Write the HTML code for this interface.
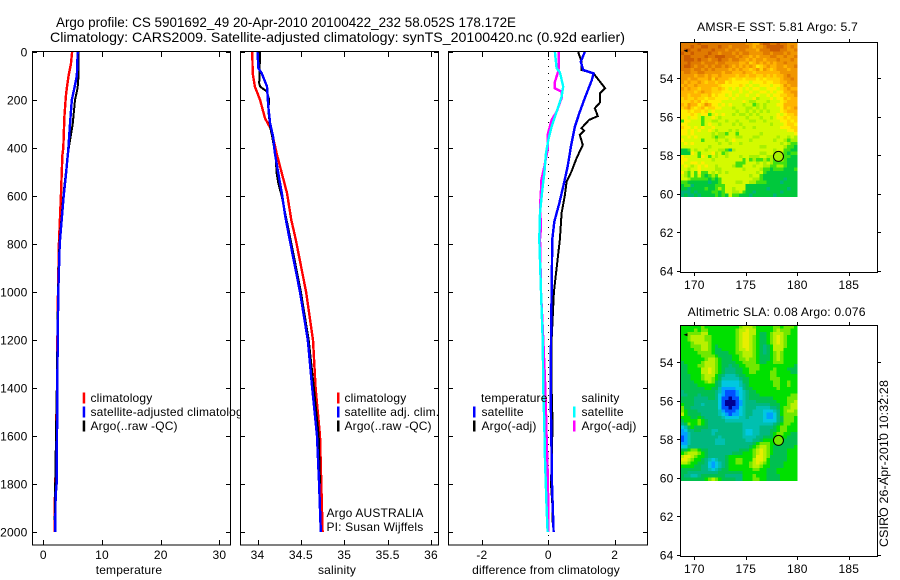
<!DOCTYPE html>
<html lang="en">
<head>
<meta charset="utf-8">
<title>Argo profile 5901692_49</title>
<style>
html,body{margin:0;padding:0;background:#fff;}
svg{display:block;}
text{font-family:"Liberation Sans",sans-serif;font-size:12px;fill:#000;letter-spacing:0.17px;}
.title{font-size:14px;letter-spacing:0;}
</style>
</head>
<body>
<svg id="chart" xmlns="http://www.w3.org/2000/svg" width="900" height="580" viewBox="0 0 900 580">
  <rect x="0" y="0" width="900" height="580" fill="#fff"/>
  <text class="title" x="56" y="27" textLength="460" lengthAdjust="spacingAndGlyphs">Argo profile: CS 5901692_49 20-Apr-2010 20100422_232 58.052S 178.172E</text>
  <text class="title" x="50" y="42" textLength="575" lengthAdjust="spacingAndGlyphs">Climatology: CARS2009. Satellite-adjusted climatology: synTS_20100420.nc (0.92d earlier)</text>
  <g id="panels"></g>
  <g id="maps"></g>
  <text x="0" y="0" transform="translate(888,547) rotate(-90)" textLength="167" lengthAdjust="spacingAndGlyphs">CSIRO 26-Apr-2010 10:32:28</text>
</svg>
<script>
// ---- axis tick values ----
const depthTicks = [0,200,400,600,800,1000,1200,1400,1600,1800,2000];
const tempTicks = [0,10,20,30];
const salTicks = [34,34.5,35,35.5,36];
const salTickLabels = ['34','34.5','35','35.5','36'];
const diffTicks = [-2,0,2];
const lonTicks = [170,175,180,185];
const latTicks = [54,56,58,60,62,64];

// ---- temperature panel ----
const tempClimDepth = [0,50,100,170,200,270,400,430,530,600,800,1000,1200,1400,1550,1700,1880,2000];
const tempClim = [4.9,4.7,4.3,3.9,3.8,3.6,3.4,3.25,3.1,3.0,2.65,2.5,2.4,2.35,2.2,2.15,1.96,1.9];
const tempSatDepth = [0,60,100,150,200,300,400,500,600,800,1000,1200,1400,1550,1800,1850,2000];
const tempSat = [5.85,5.8,5.7,5.3,4.85,4.55,4.27,3.9,3.47,2.8,2.55,2.45,2.39,2.35,2.27,2.1,2.05];
const tempArgoDepth = [0,100,150,200,300,400,500,600,800,1000,1200,1400,1700,1950];
const tempArgo = [6.0,6.0,5.85,5.4,5.0,4.35,3.85,3.4,2.75,2.5,2.4,2.3,2.1,1.95];

// ---- salinity panel ----
const salClimDepth = [0,89,144,200,276,325,422,505,588,700,780,1000,1200,1400,1600,1800,2000];
const salClim = [33.94,33.945,33.97,34.03,34.086,34.16,34.22,34.28,34.34,34.39,34.44,34.56,34.64,34.67,34.72,34.735,34.75];
const salSatDepth = [0,67,89,144,228,297,353,422,505,588,686,780,1000,1200,1400,1600,1800,2000];
const salSat = [34.0,34.01,34.05,34.11,34.125,34.145,34.18,34.2,34.24,34.28,34.32,34.37,34.49,34.58,34.63,34.686,34.71,34.73];
const salArgoDepth = [0,130,144,165,200,242,311,353,436,505,546,603,780,1000,1200,1400,1600,1800];
const salArgo = [34.03,34.02,34.03,34.11,34.135,34.125,34.145,34.17,34.21,34.22,34.24,34.28,34.38,34.5,34.59,34.65,34.705,34.72];

// ---- difference panel ----
const diffDepth1 = [0,40,75,89,117,192,249,311,394,478,561,630,707,780,1000,1200,1400,1800,2000];
const diffTempSat = [1.1,0.98,1.05,1.36,1.31,1.1,0.95,0.8,0.68,0.58,0.45,0.33,0.18,0.12,0.1,0.08,0.07,0.11,0.16];
const diffDepth2 = [0,40,75,89,151,172,210,234,267,283,317,328,346,387,443,498,540,596,671,780,1000,1200,1400,1550,1800,1900,1960];
const diffTempArgo = [0.9,1.0,1.0,1.36,1.71,1.56,1.56,1.4,1.49,1.23,1.0,1.08,0.95,1.04,0.85,0.7,0.55,0.5,0.4,0.35,0.17,0.1,0.1,0.13,0.08,0.13,0.13];
const diffDepth3 = [0,67,89,124,151,165,192,249,283,346,400,478,540,575,644,728,780,1000,1200,1367,1500,1600,1800,2000];
const diffSalArgo = [0.32,0.32,0.28,0.2,0.19,0.4,0.4,0.25,0.1,-0.02,-0.01,-0.12,-0.22,-0.22,-0.25,-0.22,-0.25,-0.22,-0.15,-0.1,-0.07,-0.05,-0.01,0.0];
const diffDepth4 = [0,67,85,144,186,249,311,367,422,505,575,671,780,1000,1200,1400,1550,1700,1900,2000];
const diffSalSat = [0.2,0.25,0.35,0.45,0.4,0.25,0.1,0.0,-0.07,-0.12,-0.18,-0.25,-0.27,-0.22,-0.17,-0.15,-0.12,-0.1,-0.05,-0.02];

// ---- map grids (colour level per cell, north to south, west to east) ----
const sstRows = [
[1,1,1,1,1,0,1,1,1,1,1,1,1,1,1,1,1,1,1,2,2,3,3,1,0,0,1,1,0,1,1,2,2,2],
[1,1,1,0,1,1,0,0,1,1,1,0,1,1,2,1,1,1,1,1,2,3,2,2,1,0,0,0,0,0,1,2,1,2],
[1,0,0,1,1,0,1,1,1,0,1,1,1,2,1,1,2,1,1,2,2,2,3,1,1,1,0,0,0,1,1,2,2,1],
[0,1,1,0,1,1,1,1,0,1,1,2,1,1,1,2,1,2,1,1,2,2,2,2,1,1,2,1,1,1,2,1,2,2],
[1,0,0,1,1,1,1,0,1,1,0,0,0,1,1,1,2,1,2,2,3,2,3,2,2,2,1,1,2,2,1,2,2,1],
[1,0,0,0,1,0,1,1,2,1,1,0,1,1,2,1,1,2,2,3,2,3,2,2,3,2,2,2,1,2,2,2,1,2],
[1,1,0,1,1,1,2,1,1,1,2,1,1,2,2,2,2,3,3,2,4,3,2,3,2,3,2,3,2,2,1,2,2,2],
[1,0,0,1,2,1,1,2,1,2,1,1,2,1,2,3,2,3,2,3,2,3,5,4,3,2,3,3,2,2,3,2,2,1],
[1,1,1,2,1,1,2,1,2,1,2,2,2,2,3,2,3,2,3,3,4,3,2,4,2,3,4,3,2,2,2,3,2,2],
[2,1,1,2,2,1,1,2,2,2,2,2,3,2,2,3,3,3,2,3,3,4,3,3,3,3,3,3,3,2,2,2,2,2],
[2,2,2,2,3,2,2,3,2,3,3,2,3,3,3,3,4,3,3,4,3,3,4,4,3,4,3,4,3,3,2,1,2,2],
[2,2,3,2,2,3,3,3,2,4,2,3,3,3,4,5,4,4,5,4,4,4,5,4,5,4,4,4,4,3,2,2,1,2],
[2,3,2,3,3,2,3,4,3,3,4,3,3,5,4,5,5,5,5,5,6,5,5,5,4,5,5,4,4,3,3,2,2,2],
[3,2,3,3,2,3,3,3,3,3,3,4,5,5,5,5,5,4,5,6,5,6,6,5,5,5,6,5,5,4,2,3,2,2],
[2,3,2,3,3,4,3,3,3,4,4,3,4,5,6,5,6,5,6,5,6,5,5,6,6,5,5,5,6,4,3,2,3,3],
[3,3,3,3,4,3,2,3,3,4,4,4,5,5,5,6,6,5,6,6,5,6,6,5,5,6,5,6,5,5,3,3,2,2],
[3,3,4,3,3,3,4,4,3,5,4,5,5,6,5,6,5,6,6,5,6,6,5,6,6,5,6,5,5,4,4,3,3,2],
[4,3,4,4,3,4,4,5,4,4,5,5,5,5,6,5,6,6,6,6,6,5,7,6,6,6,5,6,5,5,3,4,3,3],
[4,4,4,3,4,3,5,4,5,5,5,5,6,6,6,6,6,6,5,6,7,7,6,6,6,7,6,6,6,5,4,3,3,3],
[3,4,2,3,3,5,4,2,3,5,5,6,5,6,5,6,6,6,7,6,6,8,7,6,7,6,6,6,5,5,3,3,3,3],
[4,3,2,4,5,4,3,5,4,4,5,5,6,6,6,7,6,6,6,7,7,6,7,6,7,6,6,6,6,5,3,4,3,2],
[5,5,4,5,4,4,5,4,6,5,6,6,6,6,6,6,7,6,6,7,6,7,6,7,6,7,6,6,6,5,4,3,3,3],
[5,5,5,4,5,6,5,5,8,6,5,6,5,6,6,7,6,7,7,6,7,6,7,6,6,6,6,6,5,6,5,4,4,3],
[5,5,6,5,5,6,8,6,6,5,6,7,6,6,6,6,6,6,6,7,6,6,6,7,6,6,7,6,5,5,4,5,4,4],
[8,5,5,6,6,6,8,6,6,7,7,6,6,7,6,6,7,6,6,6,7,7,6,6,7,6,6,6,6,5,5,4,5,4],
[5,5,6,6,6,6,8,6,5,6,6,7,6,6,6,7,6,7,6,6,6,6,6,6,6,6,7,6,6,6,5,4,4,5],
[4,5,5,6,5,6,5,6,6,5,6,6,6,6,6,6,6,6,7,6,6,7,6,6,6,6,6,6,6,5,5,5,4,4],
[5,5,6,5,6,5,6,6,5,6,7,6,6,6,7,6,7,6,6,6,6,6,6,6,6,6,6,6,6,6,6,5,5,4],
[5,5,6,5,6,6,6,6,6,7,6,7,7,8,6,6,8,6,6,6,6,6,6,7,6,6,6,6,6,6,6,6,6,5],
[6,6,5,6,5,6,6,6,6,7,8,7,7,6,6,6,7,7,6,6,6,7,7,6,6,6,6,6,7,6,6,7,6,7],
[5,6,6,6,6,6,8,6,6,6,7,6,6,7,6,5,6,6,6,6,7,6,6,6,6,6,6,7,6,6,7,8,7,7],
[6,5,6,5,6,6,6,6,6,6,6,7,6,6,7,6,6,7,6,6,6,6,6,6,6,6,6,6,6,7,6,7,8,8],
[6,6,6,6,6,6,6,6,7,6,6,6,6,6,6,6,6,6,6,6,6,6,6,7,7,6,6,6,6,6,7,8,8,9],
[9,9,8,6,7,6,6,7,6,6,6,7,7,8,10,7,6,6,6,6,6,6,6,6,6,6,6,7,6,6,8,8,9,9],
[9,9,9,5,6,8,6,6,6,5,7,6,8,7,6,6,6,6,6,6,6,6,6,7,7,6,6,7,7,7,8,9,8,8],
[5,6,6,6,6,8,5,6,8,6,7,6,6,7,6,6,6,7,6,6,7,7,7,6,6,7,7,7,7,7,8,8,9,9],
[5,5,6,6,6,6,6,6,6,7,6,6,6,6,6,6,6,6,8,6,8,7,8,8,7,8,7,8,7,7,8,9,9,9],
[5,6,6,5,5,6,5,6,6,6,6,6,6,6,6,6,8,8,8,6,6,6,7,6,7,6,7,8,8,8,8,9,9,9],
[6,5,6,7,6,5,6,5,6,6,7,6,6,6,6,7,8,8,6,6,6,7,6,6,7,7,8,8,7,7,8,9,9,9],
[6,6,7,6,6,5,6,6,6,6,7,7,6,6,6,6,6,6,7,6,6,6,6,7,8,8,9,8,8,8,9,9,9,8],
[5,7,8,6,8,5,8,8,6,7,6,7,6,7,6,6,6,6,6,6,6,6,7,6,8,9,9,9,9,9,9,9,9,9],
[6,7,8,6,8,6,8,9,8,7,8,6,6,6,6,6,6,6,6,6,7,6,6,8,9,9,9,9,9,9,9,9,9,9],
[6,6,7,8,8,8,8,8,9,8,9,8,6,6,6,6,6,6,6,6,6,7,7,8,9,9,9,9,9,9,10,9,9,9],
[8,8,9,9,9,9,9,9,10,9,9,8,6,6,6,6,7,7,6,6,7,7,8,8,8,9,9,9,9,10,9,9,9,9],
[9,8,8,10,9,9,9,9,9,9,8,8,8,6,6,6,6,6,6,9,9,9,9,9,9,9,9,9,9,9,9,9,9,9],
[9,9,10,9,9,9,9,8,9,9,8,7,8,6,6,7,6,6,6,9,9,9,9,9,9,10,9,9,9,9,9,10,9,9],
[10,10,10,9,10,9,9,9,9,8,8,9,8,6,6,7,7,6,8,9,9,10,9,9,9,9,9,9,9,10,9,9,9,9],
[10,9,10,10,9,10,9,9,9,9,8,9,8,9,6,8,8,9,9,9,10,9,9,9,9,9,9,10,9,9,9,9,9,9]
];
const slaRows = [
[7,7,7,7,7,7,8,7,7,7,7,7,7,7,7,7,7,8,9,9,9,8,7,7,7,7,7,8,8,7,8,8,8,7],
[7,7,7,7,8,7,8,8,7,7,7,7,7,7,7,7,8,9,9,10,9,9,7,7,7,7,7,8,9,8,8,8,7,7],
[7,7,8,8,8,8,9,9,7,7,7,7,7,7,7,7,8,9,10,10,9,9,7,6,6,7,8,9,9,9,8,8,7,7],
[7,7,8,9,9,9,9,8,8,7,7,7,7,7,7,7,8,9,10,10,9,8,7,6,6,7,8,9,10,9,8,7,7,7],
[7,7,8,9,9,9,9,8,8,7,7,7,7,7,7,7,8,9,10,10,9,8,7,6,6,7,8,9,10,9,8,7,7,7],
[7,7,7,8,9,9,9,9,8,7,7,7,7,7,7,7,8,9,10,10,9,8,7,6,6,7,8,9,10,9,8,7,7,7],
[7,7,7,8,8,8,9,9,8,7,6,7,7,7,7,7,8,9,10,10,9,8,7,6,5,6,7,9,9,9,8,7,7,7],
[7,7,7,7,8,8,9,9,8,7,6,6,7,7,7,7,8,9,9,10,9,8,7,6,5,6,7,9,9,9,7,7,7,7],
[7,7,7,7,7,8,8,8,8,7,6,6,6,6,7,7,8,8,9,9,9,8,7,6,5,6,7,8,9,8,7,7,7,7],
[7,7,7,7,7,7,8,8,8,8,7,6,6,6,6,7,7,8,9,9,9,8,7,6,6,6,7,8,9,8,7,7,7,7],
[7,7,7,7,7,7,7,8,9,9,8,7,6,6,6,7,7,8,8,9,8,8,7,6,6,6,7,8,9,8,7,7,7,7],
[6,7,7,7,7,7,8,9,9,9,8,7,6,6,6,6,7,7,8,8,8,8,7,6,6,7,7,8,8,8,7,7,7,7],
[6,6,7,7,7,8,8,9,9,9,8,7,6,6,5,6,6,7,7,8,8,8,8,7,7,7,7,7,7,7,7,7,7,6],
[6,6,7,7,7,7,9,9,10,9,8,7,6,5,5,5,6,6,7,7,8,8,8,7,7,7,7,8,7,7,7,6,6,6],
[6,6,7,7,7,7,9,9,10,9,8,7,6,5,5,5,6,6,7,7,8,8,7,7,7,7,8,8,7,7,7,7,6,6],
[6,6,6,7,7,7,8,9,9,9,7,6,5,4,4,4,5,6,6,7,7,7,7,7,7,7,8,8,7,7,7,7,7,7],
[6,6,6,7,7,7,8,9,9,8,7,6,4,4,4,4,4,5,6,6,7,7,7,7,7,7,8,8,8,7,7,7,7,7],
[6,6,6,6,7,7,7,8,9,8,6,5,3,3,3,3,3,4,6,6,7,7,7,7,7,7,7,8,8,7,7,8,7,7],
[6,6,6,6,6,7,7,7,7,7,6,5,3,3,3,3,3,4,5,6,7,7,7,7,7,7,7,8,8,7,7,8,7,7],
[6,6,6,6,6,6,6,7,7,6,6,4,2,2,2,2,3,3,5,6,6,7,7,7,7,7,7,7,8,7,7,7,7,7],
[5,6,6,6,6,6,6,6,6,6,5,4,2,1,1,1,2,3,4,5,6,6,7,7,7,7,7,7,7,7,7,7,7,7],
[5,5,6,6,6,5,6,6,6,6,5,3,2,1,1,1,2,3,4,5,6,6,6,7,7,7,7,7,7,7,7,7,8,8],
[6,6,6,6,5,5,5,5,6,6,5,3,1,1,0,1,1,3,4,5,6,6,6,6,6,6,6,7,7,7,7,8,8,8],
[6,6,6,6,5,5,5,5,5,5,5,3,1,0,0,0,1,2,4,5,5,5,6,6,6,6,6,6,7,7,7,8,8,9],
[7,6,6,6,5,5,4,5,5,5,5,3,1,0,0,0,1,2,4,5,5,5,5,5,5,5,6,6,6,7,7,8,9,9],
[8,6,6,5,5,5,5,5,5,5,5,3,1,1,0,1,1,3,4,5,5,5,4,4,4,4,5,5,6,7,8,8,9,9],
[8,7,6,6,6,5,5,5,5,5,5,4,2,1,1,1,2,3,4,5,5,4,4,4,3,3,3,4,5,7,8,9,9,8],
[9,7,6,6,6,6,5,5,5,5,5,4,3,2,1,2,2,3,4,5,5,4,4,4,3,2,2,3,5,7,8,8,8,8],
[7,7,7,6,6,7,6,5,5,5,5,5,4,3,3,3,3,4,4,5,4,4,4,4,3,2,2,3,5,6,8,8,8,7],
[6,7,7,7,7,8,7,6,5,5,5,5,5,4,4,4,4,4,4,4,4,4,4,4,3,3,3,3,5,6,8,8,8,7],
[5,6,8,7,7,8,7,6,5,5,5,5,5,5,5,5,5,5,4,4,4,4,4,4,4,4,4,5,6,7,8,8,7,7],
[3,4,6,7,6,6,6,6,5,5,5,5,5,5,5,5,5,5,4,4,4,4,4,5,5,5,5,6,7,8,8,7,7,7],
[2,3,5,5,6,6,5,5,5,4,4,5,5,5,5,5,5,5,4,3,3,4,4,5,5,5,6,6,7,8,8,7,7,7],
[2,2,4,5,5,5,5,5,5,4,5,5,5,5,5,5,5,5,4,3,3,4,4,5,5,5,6,7,8,8,7,7,6,6],
[1,2,4,5,5,5,5,5,5,5,5,4,5,5,5,5,5,5,4,4,4,4,5,5,6,6,6,7,8,7,7,6,6,6],
[1,2,4,5,5,5,5,5,5,5,4,4,4,5,5,5,5,5,5,4,4,5,5,6,7,7,7,7,7,7,6,6,6,6],
[2,2,4,5,5,5,5,5,5,5,4,4,4,5,5,5,5,5,5,5,5,6,7,8,8,8,7,7,6,6,6,6,6,6],
[3,3,5,5,5,5,5,5,5,5,5,5,5,5,5,5,5,5,5,5,6,7,8,9,9,8,7,6,6,6,6,6,6,7],
[6,6,7,8,8,7,6,6,5,5,5,5,5,5,5,5,5,6,6,6,7,8,9,10,9,8,7,6,6,6,6,7,7,7],
[7,8,9,9,9,8,7,6,5,5,5,5,5,5,5,6,6,6,7,7,7,8,9,10,9,8,7,6,6,6,6,7,7,7],
[9,10,10,9,8,7,7,6,5,5,5,5,5,6,7,7,7,7,7,7,7,8,10,10,9,8,6,6,6,6,6,7,7,7],
[10,10,9,8,7,7,6,5,4,3,4,5,5,6,7,7,8,8,7,7,7,9,10,10,9,7,6,6,6,6,6,7,7,7],
[9,9,8,7,7,6,6,5,3,2,3,4,5,6,7,7,8,8,7,7,8,9,10,9,8,7,6,6,6,6,7,7,7,7],
[7,7,7,7,6,6,5,5,3,2,3,4,5,6,7,7,7,7,7,7,8,9,9,8,7,7,6,6,6,6,7,7,7,7],
[6,6,6,6,6,6,5,5,4,3,4,5,6,6,7,7,7,7,7,7,7,8,8,7,7,6,6,6,7,7,7,7,7,7],
[6,6,5,5,5,5,5,5,5,5,5,6,6,6,6,6,6,6,7,7,7,7,7,7,7,6,6,6,7,7,7,7,7,7],
[6,5,5,4,4,5,6,6,6,6,6,6,6,5,5,5,5,5,7,7,7,8,7,7,7,6,6,6,6,7,7,7,7,7],
[6,6,6,6,6,6,6,7,8,9,8,7,6,6,6,6,5,5,7,7,7,8,8,7,7,6,6,6,6,7,7,7,7,7]
];
const sstColours = ['#cc5c00','#e07a00','#f09600','#ffb400','#ffd200','#ffee00','#d4fa00','#a8f000','#40e010','#00c83c','#00b47c'];
const slaColours = ['#000090','#0050ff','#00a0ff','#00c8e0','#00c0b0','#00b880','#00c050','#00e000','#70e800','#b8f000','#e8ee00'];
const profileLat = 58.052;
const profileLon = 178.172;
const sstAtProfile = 7;
const slaAtProfile = 8;

const NS = 'http://www.w3.org/2000/svg';
const panelsRoot = document.getElementById('panels');
const mapsRoot = document.getElementById('maps');

function make(tag, parent, attrs, txt) {
  const el = document.createElementNS(NS, tag);
  for (const k in attrs) el.setAttribute(k, attrs[k]);
  if (txt !== undefined) el.textContent = txt;
  parent.appendChild(el);
  return el;
}

// ---- axis functions ----
const yDepth = d => 52 + d * 0.24;
const xTemp = v => 43.3 + v * 5.87;
const xSal = v => 257.5 + (v - 34) * 86.75;
const xDiff = v => 548.3 + v * 33.2;
const xLon = v => 694.3 + (v - 170) * 10.3;
const yLat1 = v => 78.3 + (v - 54) * 19.27;
const yLat2 = v => 362.3 + (v - 54) * 19.27;

function drawSeries(parent, name, depths, vals, xf, colour, w) {
  const pts = vals.map((v, i) => xf(v).toFixed(1) + ',' + yDepth(depths[i]).toFixed(1)).join(' ');
  const el = make('polyline', parent, {points: pts, fill: 'none', stroke: colour, 'stroke-width': w, 'shape-rendering': 'crispEdges'});
  
  
}

function drawPanel(name, left, right, xf, ticks, labels, xlabel, xlabelX, showDepth) {
  const g = make('g', panelsRoot, {});
  
  
  const top = 52, bottom = 545;
  const bg = make('rect', g, {x: left, y: top - 0.5, width: right - left, height: bottom - top, fill: '#fff', stroke: 'none'});
  
  
  const ax = make('g', g, {stroke: '#000', 'stroke-width': 1, 'shape-rendering': 'crispEdges'});
  
  
  ticks.forEach((t, i) => {
    const x = Math.round(xf(t)) + 0.5;
    make('line', ax, {x1: x, x2: x, y1: top, y2: top + 5});
    make('line', ax, {x1: x, x2: x, y1: bottom, y2: bottom - 5});
    const lb = make('text', g, {x: xf(t), y: 559, 'text-anchor': 'middle'}, labels[i]);
    
    
  });
  depthTicks.forEach(d => {
    const y = Math.round(yDepth(d)) + 0.5;
    make('line', ax, {x1: left, x2: left + 5, y1: y, y2: y});
    make('line', ax, {x1: right, x2: right - 5, y1: y, y2: y});
    if (showDepth) {
      const lb = make('text', g, {x: 27.5, y: yDepth(d) + 4.5, 'text-anchor': 'end'}, String(d));
      
      
    }
  });
  const t = make('text', g, {x: xlabelX, y: 574, 'text-anchor': 'middle'}, xlabel);
  
  
  return {g, frame() {
    const f = make('rect', g, {x: left + 0.5, y: top - 0.5, width: right - left - 1, height: bottom - top + 0.5, fill: 'none', stroke: '#000', 'stroke-width': 1, 'shape-rendering': 'crispEdges'});
    
    
  }};
}

function legendEntry(parent, name, swatchX, textX, y, colour, label) {
  if (colour) {
    const s = make('rect', parent, {x: swatchX, y: y - 9.5, width: 2.5, height: 11, fill: colour});
    
    
  }
  const t = make('text', parent, {x: textX, y: y}, label);
  
  
}

// ---- temperature ----
const p1 = drawPanel('temperature', 32, 231, xTemp, tempTicks, tempTicks.map(String), 'temperature', 129, true);
drawSeries(p1.g, 'temperature-climatology-line', tempClimDepth, tempClim, xTemp, '#ff0000', 2.4);
drawSeries(p1.g, 'temperature-argo-line', tempArgoDepth, tempArgo, xTemp, '#000000', 2);
drawSeries(p1.g, 'temperature-satellite-line', tempSatDepth, tempSat, xTemp, '#0000ff', 2.4);
p1.frame();
legendEntry(p1.g, 'legend-climatology', 82.7, 90.5, 402, '#ff0000', 'climatology');
legendEntry(p1.g, 'legend-satellite-adjusted', 82.7, 90.5, 416, '#0000ff', 'satellite-adjusted climatology');
legendEntry(p1.g, 'legend-argo-raw', 82.7, 90.5, 430, '#000000', 'Argo(..raw -QC)');

// ---- salinity ----
const p2 = drawPanel('salinity', 240, 439, xSal, salTicks, salTickLabels, 'salinity', 337, false);
drawSeries(p2.g, 'salinity-climatology-line', salClimDepth, salClim, xSal, '#ff0000', 2.4);
drawSeries(p2.g, 'salinity-argo-line', salArgoDepth, salArgo, xSal, '#000000', 2);
drawSeries(p2.g, 'salinity-satellite-line', salSatDepth, salSat, xSal, '#0000ff', 2.4);
p2.frame();
legendEntry(p2.g, 'legend-sal-climatology', 337, 344.5, 402, '#ff0000', 'climatology');
legendEntry(p2.g, 'legend-sal-satellite', 337, 344.5, 416, '#0000ff', 'satellite adj. clim.');
legendEntry(p2.g, 'legend-sal-argo', 337, 344.5, 430, '#000000', 'Argo(..raw -QC)');
legendEntry(p2.g, 'argo-australia-note', 0, 326.5, 517, null, 'Argo AUSTRALIA');
legendEntry(p2.g, 'pi-note', 0, 326.5, 531, null, 'PI: Susan Wijffels');

// ---- difference ----
const p3 = drawPanel('difference', 448, 648, xDiff, diffTicks, diffTicks.map(String), 'difference from climatology', 546, false);
const zero = make('line', p3.g, {x1: xDiff(0), x2: xDiff(0), y1: 52, y2: 545, stroke: '#000', 'stroke-width': 1, 'stroke-dasharray': '1 6', 'shape-rendering': 'crispEdges'});


drawSeries(p3.g, 'diff-temperature-argo-line', diffDepth2, diffTempArgo, xDiff, '#000000', 2);
drawSeries(p3.g, 'diff-temperature-satellite-line', diffDepth1, diffTempSat, xDiff, '#0000ff', 2.4);
drawSeries(p3.g, 'diff-salinity-argo-line', diffDepth3, diffSalArgo, xDiff, '#ff00ff', 2.4);
drawSeries(p3.g, 'diff-salinity-satellite-line', diffDepth4, diffSalSat, xDiff, '#00ffff', 2.4);
p3.frame();
legendEntry(p3.g, 'legend-temperature-heading', 0, 481, 402, null, 'temperature');
legendEntry(p3.g, 'legend-temp-satellite', 473, 481.5, 416, '#0000ff', 'satellite');
legendEntry(p3.g, 'legend-temp-argo', 473, 481.5, 430, '#000000', 'Argo(-adj)');
legendEntry(p3.g, 'legend-salinity-heading', 0, 581.5, 402, null, 'salinity');
legendEntry(p3.g, 'legend-sal-satellite-diff', 573, 581.5, 416, '#00ffff', 'satellite');
legendEntry(p3.g, 'legend-sal-argo-diff', 573, 581.5, 430, '#ff00ff', 'Argo(-adj)');

// ---- maps ----
function drawMap(name, rows, colours, yLat, top, bottom, imgTop, imgBottom, title, titleX, titleY, titleLen, labelY, markerLevel) {
  const g = make('g', mapsRoot, {});
  
  
  const imgLeft = xLon(168.65), imgRight = xLon(180);
  const cw = (imgRight - imgLeft) / rows[0].length;
  const ch = (imgBottom - imgTop) / rows.length;
  const cells = make('g', g, {'shape-rendering': 'crispEdges'});
  
  
  rows.forEach((row, r) => row.forEach((v, c) => {
    const cell = make('rect', cells, {x: (imgLeft + c * cw).toFixed(2), y: (imgTop + r * ch).toFixed(2), width: (cw + 0.3).toFixed(2), height: (ch + 0.3).toFixed(2), fill: colours[v]});
    
    
  }));
  const f = make('rect', g, {x: 680.5, y: top + 0.5, width: 197, height: bottom - top, fill: 'none', stroke: '#000', 'stroke-width': 1, 'shape-rendering': 'crispEdges'});
  
  
  const ax = make('g', g, {stroke: '#000', 'stroke-width': 1, 'shape-rendering': 'crispEdges'});
  
  
  lonTicks.forEach(l => {
    const x = Math.round(xLon(l)) + 0.5;
    make('line', ax, {x1: x, x2: x, y1: top - 3, y2: top});
    make('line', ax, {x1: x, x2: x, y1: bottom + 1, y2: bottom + 4});
    const lb = make('text', g, {x: xLon(l), y: labelY, 'text-anchor': 'middle'}, String(l));
    
    
  });
  latTicks.forEach(l => {
    const y = Math.round(yLat(l)) + 0.5;
    make('line', ax, {x1: 677, x2: 680, y1: y, y2: y});
    make('line', ax, {x1: 878, x2: 881, y1: y, y2: y});
    const lb = make('text', g, {x: 673.5, y: yLat(l) + 4.5, 'text-anchor': 'end'}, String(l));
    
    
  });
  const t = make('text', g, {x: titleX, y: titleY, textLength: titleLen, lengthAdjust: 'spacingAndGlyphs'}, title);
  
  
  const c = make('circle', g, {cx: xLon(profileLon), cy: yLat(profileLat), r: 5, fill: colours[markerLevel], stroke: '#000', 'stroke-width': 1});
  
  
  const mx = 686, my = yLat(52.57);
  const a = make('polygon', g, {points: [mx - 2.5, my, mx + 1.5, my - 1.5, mx + 1.5, my + 1.5].join(' '), fill: '#000'});
  
  
}
drawMap('sst', sstRows, sstColours, yLat1, 42, 272, 42, 196.7, 'AMSR-E SST: 5.81 Argo: 5.7', 697, 31, 161, 289, sstAtProfile);
drawMap('sla', slaRows, slaColours, yLat2, 325, 556, 325.3, 480.7, 'Altimetric SLA: 0.08 Argo: 0.076', 687.7, 316, 178, 573, slaAtProfile);
</script>
</body>
</html>
